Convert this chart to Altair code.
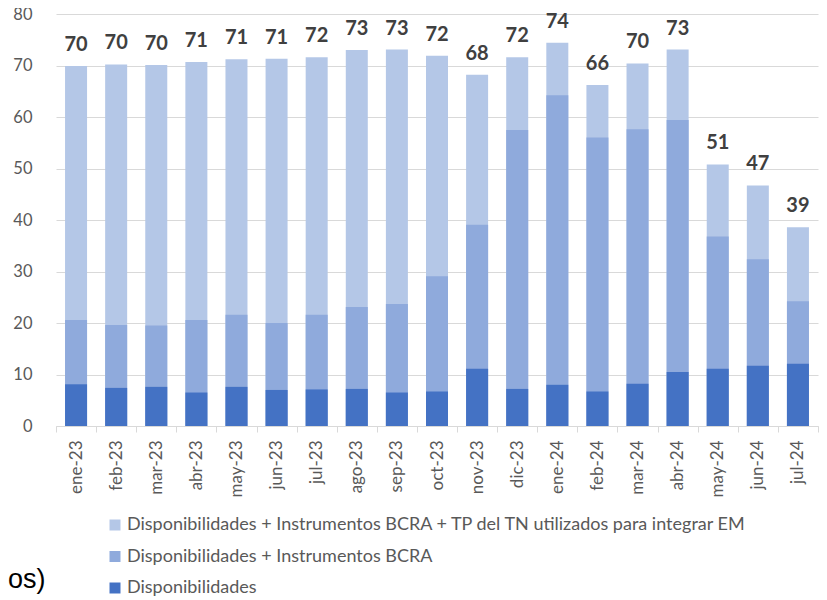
import altair as alt
import pandas as pd

months = ["ene-23", "feb-23", "mar-23", "abr-23", "may-23", "jun-23", "jul-23",
          "ago-23", "sep-23", "oct-23", "nov-23", "dic-23", "ene-24", "feb-24",
          "mar-24", "abr-24", "may-24", "jun-24", "jul-24"]

disp = [8.1, 7.4, 7.6, 6.5, 7.6, 7.0, 7.1, 7.2, 6.5, 6.7, 11.1, 7.2, 8.0, 6.7,
        8.2, 10.5, 11.1, 11.7, 12.1]
disp_bcra = [20.6, 19.6, 19.5, 20.6, 21.6, 20.0, 21.6, 23.1, 23.7, 29.1, 39.1,
             57.5, 64.2, 56.0, 57.6, 59.4, 36.8, 32.4, 24.2]
disp_bcra_tp = [69.9, 70.2, 70.1, 70.7, 71.2, 71.3, 71.6, 73.0, 73.1, 71.9, 68.2,
                71.6, 74.4, 66.2, 70.4, 73.1, 50.8, 46.7, 38.6]

S3 = "Disponibilidades + Instrumentos BCRA + TP del TN utilizados para integrar EM"
S2 = "Disponibilidades + Instrumentos BCRA"
S1 = "Disponibilidades"
series = [S3, S2, S1]
colors = ["#B4C7E7", "#8FAADC", "#4472C4"]
side_text = ["os)"]

rows = []
for k, (name, vals) in enumerate(zip(series, [disp_bcra_tp, disp_bcra, disp])):
    for m, v in zip(months, vals):
        rows.append({"mes": m, "serie": name, "valor": v, "ord": k})
df = pd.DataFrame(rows)
tot = pd.DataFrame({"mes": months, "total": disp_bcra_tp})

FONT = "Lato"
GRAY = "#595959"

x_enc = alt.X("mes:N", sort=months, title=None,
              scale=alt.Scale(paddingInner=0, paddingOuter=0),
              axis=alt.Axis(labelAngle=270, labelFontSize=17, labelColor=GRAY,
                            labelFont=FONT, labelPadding=8, tickSize=6,
                            tickColor="#d9d9d9", domainColor="#d9d9d9",
                            tickBand="extent", grid=False))

bars = alt.Chart(df).mark_bar(size=22).encode(
    x=x_enc,
    y=alt.Y("valor:Q", stack=None, title=None,
            scale=alt.Scale(domain=[0, 80]),
            axis=alt.Axis(values=list(range(0, 81, 10)), domain=False, ticks=False,
                          labelPadding=24, labelFontSize=16.5, labelColor=GRAY,
                          labelFont=FONT, gridColor="#d9d9d9", grid=True)),
    color=alt.Color("serie:N", scale=alt.Scale(domain=series, range=colors),
                    legend=alt.Legend(orient="none", legendX=50, legendY=502,
                                      direction="vertical", title=None,
                                      symbolType="square", symbolSize=121,
                                      symbolStrokeWidth=0, labelFontSize=18,
                                      labelColor=GRAY, labelFont=FONT,
                                      rowPadding=13.5, padding=0, labelOffset=3,
                                      labelLimit=0)),
    order=alt.Order("ord:Q"),
)

labels = alt.Chart(tot).mark_text(fontWeight="bold", fontSize=20, color="#404040",
                                  dy=-15, baseline="alphabetic", font=FONT).encode(
    x=alt.X("mes:N", sort=months),
    y=alt.Y("total:Q"),
    text=alt.Text("total:Q", format=".0f"),
)

side = alt.Chart(pd.DataFrame({"t": side_text})).mark_text(
    fontSize=27, font="Liberation Sans", color="#000000", align="left",
    baseline="middle").encode(
    text="t:N", x=alt.value(-48), y=alt.value(566))

chart = alt.layer(bars, labels, side).properties(
    width=762, height=412,
    autosize=alt.AutoSizeParams(type="none"),
    padding={"left": 48, "top": 6, "right": 1, "bottom": 172},
).configure_view(stroke=None)

chart.save("out.html", embed_options={"renderer": "svg", "actions": False})
